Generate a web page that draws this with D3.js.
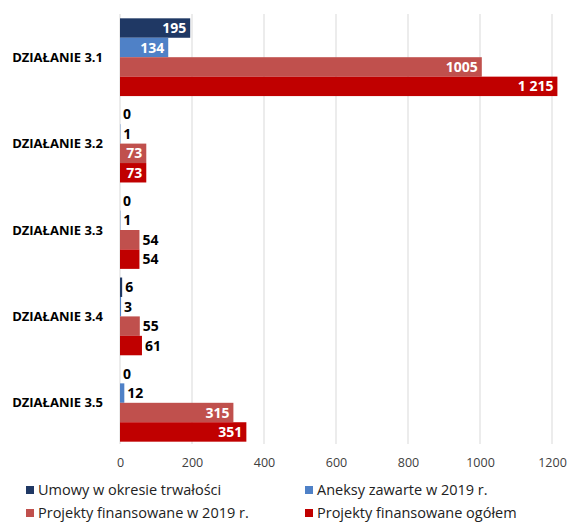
<!DOCTYPE html>
<html>
<head>
<meta charset="utf-8">
<script src="https://cdn.jsdelivr.net/npm/d3@7"></script>
<style>
  body { margin: 0; background: #fff; }
  text { font-family: "Open Sans", "Liberation Sans", sans-serif; }
</style>
</head>
<body>
<div id="chart"></div>
<script>
// chart data
var categories = ["DZIAŁANIE 3.1", "DZIAŁANIE 3.2", "DZIAŁANIE 3.3", "DZIAŁANIE 3.4", "DZIAŁANIE 3.5"];
var seriesNames = ["Umowy w okresie trwałości", "Aneksy zawarte w 2019 r.", "Projekty finansowane w 2019 r.", "Projekty finansowane ogółem"];
var umowy = [195, 0, 0, 6, 0];
var aneksy = [134, 1, 1, 3, 12];
var projekty2019 = [1005, 73, 54, 55, 315];
var projektyOgolem = [1215, 73, 54, 61, 351];
var xTicks = [0, 200, 400, 600, 800, 1000, 1200];

var colors = ["#1f3864", "#4f81c7", "#c0504d", "#c00000"];
var seriesValues = [umowy, aneksy, projekty2019, projektyOgolem];

var margin = {top: 14, right: 11, bottom: 79, left: 120};
var W = 568, H = 525;
var width = W - margin.left - margin.right;
var height = H - margin.top - margin.bottom;

var svg = d3.select("#chart").append("svg")
    .attr("width", W).attr("height", H);
var g = svg.append("g").attr("transform", "translate(" + margin.left + "," + margin.top + ")");

var x = d3.scaleLinear().domain([0, 1200]).range([0, 432]);
var y = d3.scaleBand().domain(categories).range([0, height]).paddingInner(0.1).paddingOuter(0.05);
var ys = d3.scaleBand().domain(d3.range(4)).range([0, y.bandwidth()]);

// gridlines
g.append("g").selectAll("line").data(xTicks).enter().append("line")
    .attr("x1", d => x(d)).attr("x2", d => x(d))
    .attr("y1", 0).attr("y2", height - 2)
    .attr("stroke", "#d9d9d9").attr("stroke-width", 1);

// axis labels
var xAxis = g.append("g").attr("transform", "translate(0," + height + ")")
    .call(d3.axisBottom(x).tickValues(xTicks).tickSize(0).tickPadding(12).tickFormat(d3.format("d")));
xAxis.select(".domain").remove();
xAxis.selectAll("text").style("font-size", "12.5px").attr("fill", "#404040");

// category labels
g.append("g").selectAll("text").data(categories).enter().append("text")
    .attr("x", -17).attr("y", d => y(d) + y.bandwidth() / 2)
    .attr("text-anchor", "end").attr("dy", "0.35em")
    .style("font-size", "13px").style("font-weight", "bold").attr("fill", "#000")
    .text(d => d);

var fmt = v => v >= 1000 && v !== 1005 ? d3.format(",")(v).replace(",", " ") : String(v);

var rows = [];
categories.forEach(function(c, ci) {
    seriesValues.forEach(function(vals, si) {
        rows.push({cat: c, s: si, v: vals[ci]});
    });
});

var grp = g.append("g").selectAll("g").data(rows).enter().append("g")
    .attr("transform", d => "translate(0," + (y(d.cat) + ys(d.s)) + ")");

grp.append("rect")
    .attr("x", 0).attr("y", 0)
    .attr("width", d => x(d.v))
    .attr("height", ys.bandwidth())
    .attr("fill", d => colors[d.s]);

grp.append("text")
    .attr("y", ys.bandwidth() / 2).attr("dy", "0.36em")
    .style("font-size", "14px").style("font-weight", "bold")
    .text(d => fmt(d.v))
    .each(function(d) {
        var t = d3.select(this);
        var tw = this.getComputedTextLength();
        if (x(d.v) >= tw + 8) {
            t.attr("x", x(d.v) - 4).attr("text-anchor", "end").attr("fill", "#fff");
        } else {
            t.attr("x", x(d.v) + 3).attr("text-anchor", "start").attr("fill", "#000");
        }
    });

// legend
var legend = svg.append("g");
var legPos = [[26, 490], [305, 490], [26, 513], [305, 513]];
seriesNames.forEach(function(name, i) {
    var lg = legend.append("g").attr("transform", "translate(" + legPos[i][0] + "," + legPos[i][1] + ")");
    lg.append("rect").attr("x", 0).attr("y", -4).attr("width", 8).attr("height", 8).attr("fill", colors[i]);
    lg.append("text").attr("x", 12).attr("y", 0).attr("dy", "0.35em")
        .style("font-size", "14.5px").attr("fill", "#222").text(name);
});
</script>
</body>
</html>
